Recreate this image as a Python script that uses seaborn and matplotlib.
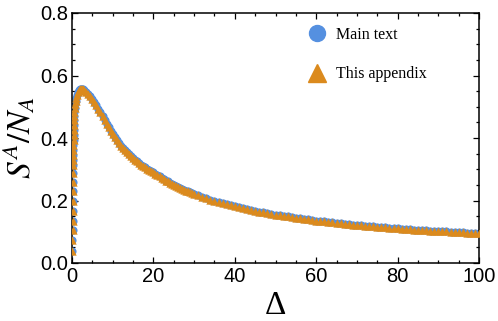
import matplotlib
matplotlib.use("Agg")
import matplotlib.pyplot as plt
from matplotlib.lines import Line2D
from matplotlib.ticker import MultipleLocator
import seaborn as sns
import pandas as pd

# ---- data ----
delta = [0.10, 0.12, 0.14, 0.16, 0.18, 0.20, 0.22, 0.24, 0.26, 0.28,
         0.30, 0.32, 0.34, 0.36, 0.38, 0.40, 0.43, 0.46, 0.50, 0.55,
         0.60, 0.70, 0.80, 0.90, 1.0, 1.2, 1.4, 1.6, 1.8, 2.0,
         2.2, 2.4, 2.6, 2.8, 3.0, 3.5, 4, 4.5, 5, 5.5,
         6, 6.5, 7, 7.5, 8, 8.5, 9, 9.5, 10, 10.5, 11, 11.5,
         12, 12.5, 13, 13.5, 14, 14.5, 15, 15.5, 16, 16.5, 17, 17.5,
         18, 18.5, 19, 19.5, 20, 20.5, 21, 21.5,
         22, 22.5, 23, 23.5, 24, 24.5, 25, 25.5, 26, 26.5, 27, 27.5,
         28, 28.5, 29, 29.5, 30, 31,
         32, 33, 34, 35, 36, 37, 38, 39, 40, 41,
         42, 43, 44, 45, 46, 47, 48, 49, 50, 51,
         52, 53, 54, 55, 56, 57, 58, 59, 60, 61,
         62, 63, 64, 65, 66, 67, 68, 69, 70, 71,
         72, 73, 74, 75, 76, 77, 78, 79, 80, 81,
         82, 83, 84, 85, 86, 87, 88, 89, 90, 91,
         92, 93, 94, 95, 96, 97, 98, 99, 100]

main_text = [0.040, 0.075, 0.105, 0.135, 0.168, 0.200, 0.230, 0.260, 0.288, 0.314,
             0.330, 0.346, 0.362, 0.378, 0.394, 0.410, 0.426, 0.442, 0.458, 0.470,
             0.482, 0.496, 0.508, 0.518, 0.527, 0.538, 0.546, 0.551, 0.554, 0.556,
             0.557, 0.557, 0.556, 0.555, 0.553, 0.548, 0.542, 0.534, 0.525, 0.515,
             0.505, 0.494, 0.482, 0.470, 0.458, 0.446, 0.434, 0.423, 0.412, 0.402, 0.393, 0.384,
             0.376, 0.368, 0.361, 0.354, 0.348, 0.342, 0.336, 0.330, 0.325, 0.320, 0.315, 0.310,
             0.306, 0.302, 0.298, 0.294, 0.290, 0.285, 0.281, 0.277,
             0.272, 0.268, 0.264, 0.261, 0.257, 0.254, 0.250, 0.247, 0.244, 0.241, 0.238, 0.235,
             0.232, 0.230, 0.227, 0.224, 0.222, 0.217,
             0.212, 0.208, 0.203, 0.199, 0.195, 0.192, 0.188, 0.185, 0.181, 0.178,
             0.175, 0.172, 0.170, 0.167, 0.164, 0.162, 0.159, 0.157, 0.155, 0.153,
             0.151, 0.149, 0.147, 0.145, 0.143, 0.141, 0.140, 0.138, 0.136, 0.135,
             0.133, 0.132, 0.130, 0.129, 0.127, 0.126, 0.125, 0.123, 0.122, 0.121,
             0.120, 0.119, 0.118, 0.116, 0.115, 0.114, 0.113, 0.112, 0.111, 0.110,
             0.109, 0.108, 0.107, 0.107, 0.106, 0.105, 0.104, 0.103, 0.102, 0.102,
             0.101, 0.100, 0.099, 0.099, 0.098, 0.097, 0.096, 0.096, 0.095]

this_appendix = list(main_text)

series_labels = ["Main text", "This appendix"]
x_ticks = [0, 20, 40, 60, 80, 100]
y_ticks = [0.0, 0.2, 0.4, 0.6, 0.8]

BLUE = "#5590E0"
ORANGE = "#DB8A1D"

df = pd.concat([
    pd.DataFrame({"Delta": delta, "S": main_text, "series": series_labels[0]}),
    pd.DataFrame({"Delta": delta, "S": this_appendix, "series": series_labels[1]}),
])

sns.set_style("ticks")
plt.rcParams["mathtext.fontset"] = "stix"
plt.rcParams["font.family"] = ["Liberation Sans", "DejaVu Sans"]
plt.rcParams["text.color"] = "black"
plt.rcParams["axes.labelcolor"] = "black"
plt.rcParams["xtick.color"] = "black"
plt.rcParams["ytick.color"] = "black"

fig = plt.figure(figsize=(4.98, 3.21), dpi=100)
ax = fig.add_axes([72 / 498, 1 - 263 / 321, (479 - 72) / 498, (263 - 13) / 321])

sns.scatterplot(data=df[df.series == series_labels[0]], x="Delta", y="S",
                color=BLUE, marker="o", s=34, linewidth=0, ax=ax, legend=False,
                zorder=2)
sns.scatterplot(data=df[df.series == series_labels[1]], x="Delta", y="S",
                color=ORANGE, marker="^", s=36, linewidth=0, ax=ax, legend=False,
                zorder=3)

ax.set_xlim(0, 100)
ax.set_ylim(0, 0.8)
ax.set_xticks(x_ticks)
ax.set_yticks(y_ticks)
ax.set_xticklabels([str(v) for v in x_ticks])
ax.set_yticklabels([f"{v:.1f}" for v in y_ticks])
ax.xaxis.set_minor_locator(MultipleLocator(5))
ax.yaxis.set_minor_locator(MultipleLocator(0.05))
ax.tick_params(which="both", direction="in", top=True, right=True,
               color="black", labelcolor="black", width=0.9)
ax.tick_params(which="major", length=4.5, labelsize=14.5, pad=3)
ax.tick_params(which="minor", length=2.5)
for sp in ax.spines.values():
    sp.set_color("black")
    sp.set_linewidth(1.1)

ax.set_xlabel("Δ", fontsize=24, family="Liberation Serif", color="black",
              va="baseline")
ax.xaxis.set_label_coords(0.5, (263 - 314) / 250)
ax.set_ylabel(r"$S^A/N_A$", fontsize=24, labelpad=2, color="black")

handles = [
    Line2D([], [], linestyle="none", marker="o", color=BLUE, markersize=11.5),
    Line2D([], [], linestyle="none", marker="^", color=ORANGE, markersize=12.5),
]
ax.legend(handles, series_labels, loc="upper left",
          bbox_to_anchor=((307 - 72) / 407, 1 - (27 - 13) / 250),
          frameon=False, prop={"family": "Liberation Serif", "size": 11.5},
          handlelength=1.2, handletextpad=0.6, labelspacing=1.45,
          borderpad=0, borderaxespad=0)

fig.savefig("out.png", dpi=100)
